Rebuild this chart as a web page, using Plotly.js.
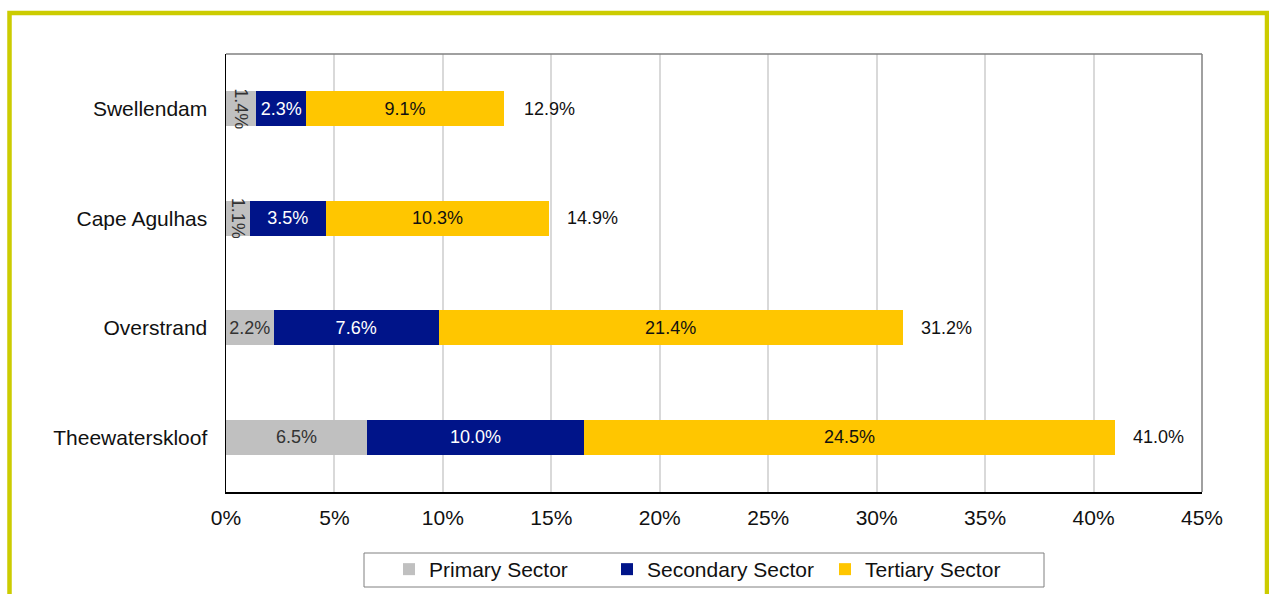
<!DOCTYPE html>
<html>
<head>
<meta charset="utf-8">
<script src="https://cdn.plot.ly/plotly-3.0.1.min.js"></script>
<style>
html,body{margin:0;padding:0;background:#fff;}
#chart{width:1269px;height:594px;}
</style>
</head>
<body>
<div id="chart"></div>
<script>
const categories = ["Swellendam", "Cape Agulhas", "Overstrand", "Theewaterskloof"];
const primary = [1.4, 1.1, 2.2, 6.5];
const secondary = [2.3, 3.5, 7.6, 10.0];
const tertiary = [9.1, 10.3, 21.4, 24.5];
const totals = [12.9, 14.9, 31.2, 41.0];
const xTickVals = [0, 5, 10, 15, 20, 25, 30, 35, 40, 45];
const xTickText = ["0%", "5%", "10%", "15%", "20%", "25%", "30%", "35%", "40%", "45%"];

const FONT = "Liberation Sans, Arial, sans-serif";

function barTrace(name, vals, color, textColor) {
  return {
    type: "bar", orientation: "h", name: name,
    y: categories, x: vals,
    marker: {color: color},
    width: 0.32,
    text: vals.map(v => v.toFixed(1) + "%"),
    textposition: "inside",
    insidetextanchor: "middle",
    textangle: "auto",
    constraintext: "none",
    textfont: {family: FONT, size: 18, color: textColor},
    hoverinfo: "x+y+name"
  };
}

const data = [
  barTrace("Primary Sector", primary, "#C0C0C0", "#333333"),
  barTrace("Secondary Sector", secondary, "#001489", "#ffffff"),
  barTrace("Tertiary Sector", tertiary, "#FFC600", "#111111")
];

const annotations = categories.map((c, i) => ({
  x: totals[i], y: c, xref: "x", yref: "y",
  text: totals[i].toFixed(1) + "%",
  showarrow: false, xanchor: "left", xshift: 16,
  font: {family: FONT, size: 18, color: "#111111"}
}));

const L = 226, R = 1202, T = 54, B = 492;
const pw = R - L, ph = B - T;
function px(x) { return (x - L) / pw; }
function py(y) { return (B - y) / ph; }

const shapes = [
  {type: "line", xref: "paper", yref: "paper", x0: 0, x1: 1, y0: 1, y1: 1, line: {color: "#808080", width: 1.5}},
  {type: "line", xref: "paper", yref: "paper", x0: 1, x1: 1, y0: 0, y1: 1, line: {color: "#808080", width: 1.5}},
  {type: "rect", xref: "paper", yref: "paper", x0: px(364), x1: px(1044), y0: py(587), y1: py(553),
   line: {color: "#808080", width: 1}, fillcolor: "rgba(0,0,0,0)"},
  {type: "path", xref: "paper", yref: "paper",
   path: "M " + px(9.5) + " " + py(700) + " L " + px(9.5) + " " + py(13) + " L " + px(1267) + " " + py(13) + " L " + px(1267) + " " + py(700),
   line: {color: "#CCCC00", width: 4.5}}
];

const layout = {
  width: 1269, height: 594,
  margin: {l: L, r: 1269 - R, t: T, b: 594 - B, autoexpand: false},
  paper_bgcolor: "#ffffff", plot_bgcolor: "#ffffff",
  barmode: "stack",
  font: {family: FONT, size: 21, color: "#111111"},
  showlegend: true,
  legend: {
    orientation: "h", x: px(389), xanchor: "left", y: py(549), yanchor: "top",
    bgcolor: "rgba(0,0,0,0)", borderwidth: 0,
    font: {family: FONT, size: 21, color: "#111111"},
    traceorder: "normal",
    entrywidth: 173
  },
  xaxis: {
    range: [0, 45], tickvals: xTickVals, ticktext: xTickText,
    showgrid: true, gridcolor: "#D9D9D9", gridwidth: 2,
    showline: true, linecolor: "#000000", linewidth: 1.5,
    zeroline: false, ticks: "", ticklabelstandoff: 6,
    tickfont: {family: FONT, size: 21, color: "#111111"},
    fixedrange: true
  },
  yaxis: {
    categoryorder: "array", categoryarray: categories,
    autorange: "reversed",
    showline: true, linecolor: "#000000", linewidth: 1.5,
    showgrid: false, zeroline: false, ticks: "", ticklabelstandoff: 13,
    tickfont: {family: FONT, size: 21, color: "#111111"},
    fixedrange: true
  },
  annotations: annotations,
  shapes: shapes
};

Plotly.newPlot("chart", data, layout, {displayModeBar: false, staticPlot: true});
</script>
</body>
</html>
